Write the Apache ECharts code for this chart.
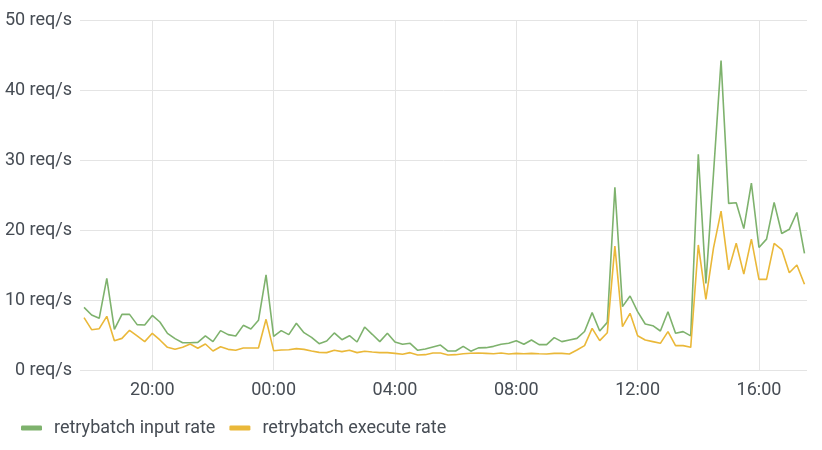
<!DOCTYPE html>
<html>
<head>
<meta charset="utf-8">
<script src="https://cdn.jsdelivr.net/npm/echarts@6/dist/echarts.min.js"></script>
<style>
html,body{margin:0;padding:0;background:#fff;}
#c{width:822px;height:450px;}
</style>
</head>
<body>
<div id="c"></div>
<script>
// Series names
const seriesNames = ['retrybatch input rate', 'retrybatch execute rate'];
// Sample timing: first sample 17:45, every 15 minutes
const firstSample = [17, 45];
const stepMinutes = 15;
// Values (req/s)
const inputRate = [
  8.95, 7.86, 7.38, 13.1, 5.8, 7.95, 7.95, 6.48, 6.43, 7.8,
  6.86, 5.24, 4.48, 3.9, 3.9, 3.95, 4.86, 4.05, 5.62, 5.05,
  4.86, 6.38, 5.86, 7.1, 13.6, 4.81, 5.62, 5.05, 6.67, 5.33,
  4.67, 3.76, 4.14, 5.29, 4.33, 4.9, 4.0, 6.14, 5.1, 4.05,
  5.24, 4.0, 3.67, 3.81, 2.81, 3.0, 3.29, 3.57, 2.71, 2.71,
  3.38, 2.69, 3.16, 3.19, 3.38, 3.67, 3.81, 4.19, 3.67, 4.29,
  3.62, 3.62, 4.62, 4.05, 4.29, 4.52, 5.5, 8.19, 5.57, 6.8,
  26.1, 9.05, 10.57, 8.33, 6.57, 6.33, 5.57, 8.33, 5.24, 5.48,
  4.88, 30.8, 12.38, 28.0, 44.2, 23.8, 23.9, 20.2, 26.7, 17.5,
  18.7, 23.95, 19.5, 20.1, 22.5, 16.67
];
const executeRate = [
  7.48, 5.76, 5.9, 7.67, 4.19, 4.52, 5.67, 4.86, 4.05, 5.24,
  4.29, 3.24, 2.95, 3.24, 3.71, 3.1, 3.71, 2.71, 3.33, 2.95,
  2.81, 3.14, 3.14, 3.14, 7.24, 2.76, 2.86, 2.9, 3.05, 2.95,
  2.71, 2.52, 2.48, 2.81, 2.62, 2.81, 2.48, 2.67, 2.57, 2.48,
  2.48, 2.38, 2.24, 2.48, 2.14, 2.19, 2.43, 2.43, 2.14, 2.19,
  2.33, 2.4, 2.43, 2.38, 2.33, 2.43, 2.29, 2.38, 2.33, 2.38,
  2.33, 2.29, 2.38, 2.38, 2.29, 2.86, 3.48, 5.95, 4.19, 5.33,
  17.7, 6.19, 8.1, 4.9, 4.29, 4.05, 3.81, 5.48, 3.48, 3.48,
  3.24, 17.86, 10.1, 17.4, 22.7, 14.3, 18.1, 13.7, 18.7, 12.95,
  12.95, 18.1, 17.2, 13.9, 15.0, 12.24
];
// Y axis ticks
const yTicks = [0, 10, 20, 30, 40, 50];

const t0 = new Date(2024, 0, 1, firstSample[0], firstSample[1]).getTime();
const step = stepMinutes * 60 * 1000;
const toPairs = arr => arr.map((v, i) => [t0 + i * step, v]);

const xMin = new Date(2024, 0, 1, 17, 37).getTime();
const xMax = new Date(2024, 0, 2, 17, 35).getTime();
const pad = n => (n < 10 ? '0' : '') + n;

const textColor = '#464c54';
const font = 'Roboto, "Noto Sans", sans-serif';
const chart = echarts.init(document.getElementById('c'), null, {renderer: 'canvas'});
chart.setOption({
  animation: false,
  backgroundColor: '#ffffff',
  grid: {left: 80, right: 15, top: 20, bottom: 80, outerBoundsMode: 'none'},
  xAxis: {
    type: 'time',
    min: xMin,
    max: xMax,
    minInterval: 4 * 3600 * 1000,
    maxInterval: 4 * 3600 * 1000,
    axisLine: {show: false},
    axisTick: {show: false},
    splitLine: {show: true, showMinLine: false, showMaxLine: false, lineStyle: {color: '#e4e4e4', width: 1}},
    axisLabel: {
      color: textColor, fontSize: 18, fontFamily: font, margin: 11,
      formatter: v => { const d = new Date(v); return pad(d.getHours()) + ':' + pad(d.getMinutes()); }
    }
  },
  yAxis: {
    type: 'value',
    min: yTicks[0],
    max: yTicks[yTicks.length - 1],
    interval: yTicks[1] - yTicks[0],
    axisLine: {show: false},
    axisTick: {show: false},
    splitLine: {lineStyle: {color: '#e4e4e4', width: 1}},
    axisLabel: {color: textColor, fontSize: 18, fontFamily: font, margin: 8, formatter: '{value} req/s'}
  },
  legend: {
    left: 16,
    top: 414,
    icon: 'roundRect',
    itemWidth: 21,
    itemHeight: 5,
    itemGap: 14,
    formatter: name => '{p|}' + name,
    textStyle: {color: textColor, fontSize: 18, fontFamily: font, rich: {p: {width: 7}}},
    data: seriesNames
  },
  series: [
    {name: seriesNames[0], type: 'line', data: toPairs(inputRate), showSymbol: false, symbol: 'none',
     color: '#7eb26d', lineStyle: {width: 1.6, color: '#7eb26d'}},
    {name: seriesNames[1], type: 'line', data: toPairs(executeRate), showSymbol: false, symbol: 'none',
     color: '#eab839', lineStyle: {width: 1.6, color: '#eab839'}}
  ]
});
</script>
</body>
</html>
